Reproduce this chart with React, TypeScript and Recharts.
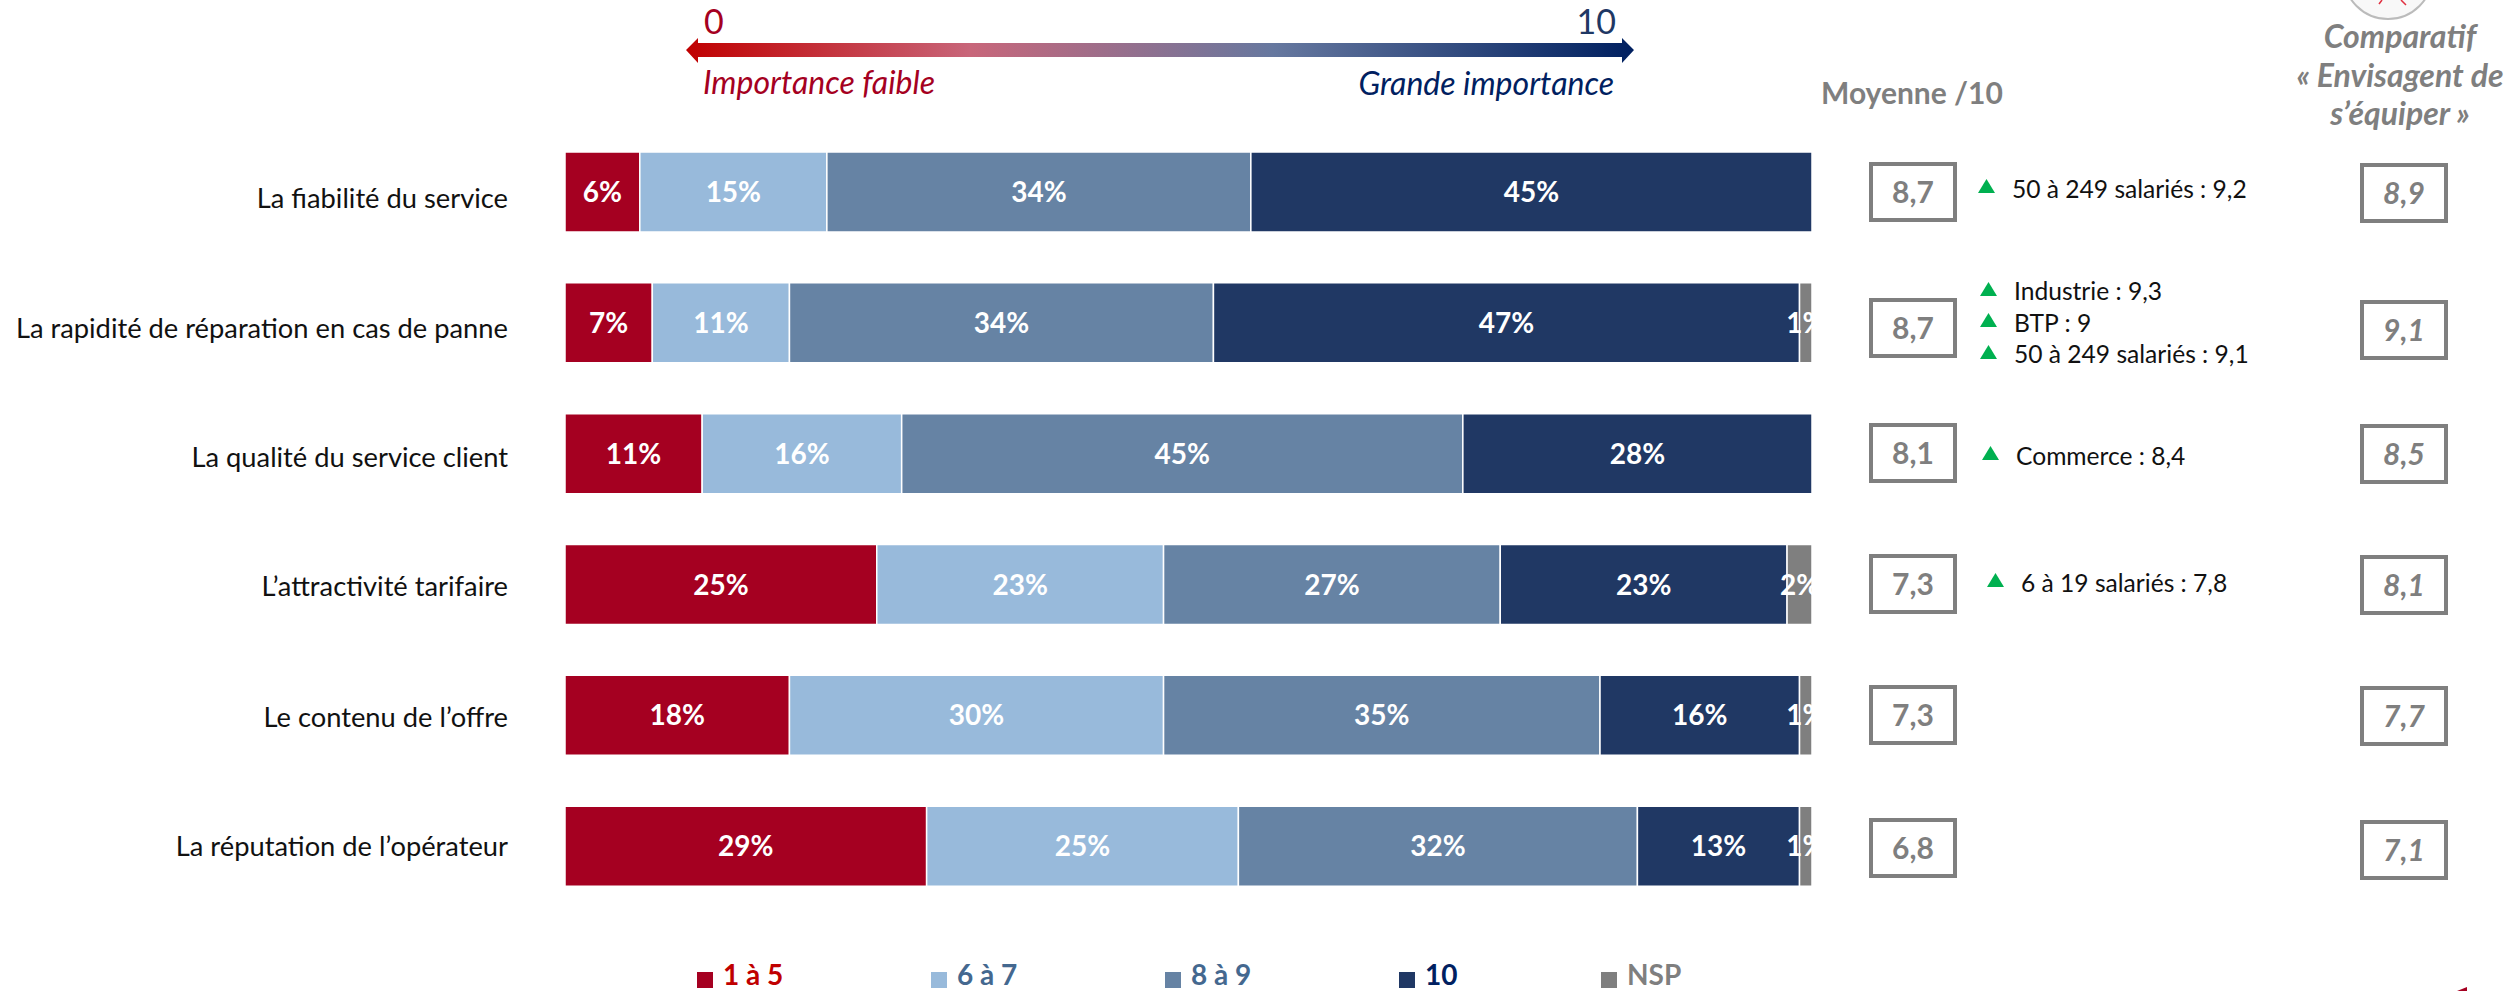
import React from 'react';
import { BarChart, Bar, XAxis, YAxis, LabelList, Legend } from 'recharts';

const FONT = 'Lato, "Open Sans", sans-serif';
const categories = [
  'La fiabilité du service',
  'La rapidité de réparation en cas de panne',
  'La qualité du service client',
  'L’attractivité tarifaire',
  'Le contenu de l’offre',
  'La réputation de l’opérateur',
];
const seriesNames = ['1 à 5', '6 à 7', '8 à 9', '10', 'NSP'];
const seriesKeys = ['a', 'b', 'c', 'd', 'e'];
const seriesColors = ['#A50021', '#98BADB', '#6683A4', '#203864', '#7F7F7F'];
const legendTextColors = ['#C00000', '#44688F', '#44688F', '#002060', '#7F7F7F'];
const legendX = [697, 931, 1165, 1399, 1601];
const v1a5 = [6, 7, 11, 25, 18, 29];
const v6a7 = [15, 11, 16, 23, 30, 25];
const v8a9 = [34, 34, 45, 27, 35, 32];
const v10 = [45, 47, 28, 23, 16, 13];
const vNsp = [0, 1, 0, 2, 1, 1];
const moyennes = ['8,7', '8,7', '8,1', '7,3', '7,3', '6,8'];
const moyenneY = [162, 298, 423, 554, 685, 818];
const comparatifs = ['8,9', '9,1', '8,5', '8,1', '7,7', '7,1'];
const comparatifY = [163, 300, 424, 555, 686, 820];
const tickDy = [6, 5, 3, 1, 1, -1];
const notes = [
  { text: '50 à 249 salariés : 9,2', tx: 1978, ty: 179, x: 2012, y: 198 },
  { text: 'Industrie : 9,3', tx: 1980, ty: 282, x: 2014, y: 300 },
  { text: 'BTP : 9', tx: 1980, ty: 313, x: 2014, y: 332 },
  { text: '50 à 249 salariés : 9,1', tx: 1980, ty: 345, x: 2014, y: 363 },
  { text: 'Commerce : 8,4', tx: 1982, ty: 446, x: 2016, y: 465 },
  { text: '6 à 19 salariés : 7,8', tx: 1987, ty: 573, x: 2021, y: 592 },
];

const data = categories.map((name, i) => ({
  name,
  a: v1a5[i],
  b: v6a7[i],
  c: v8a9[i],
  d: v10[i],
  e: vNsp[i],
}));

const BarLabel = (props: any) => {
  const { x, y, width, height, value, index, id } = props;
  if (!value) return null;
  const clip = `clip-${id}-${index}`;
  return (
    <g>
      <clipPath id={clip}>
        <rect x={x - 30} y={y} width={width + 30} height={height} />
      </clipPath>
      <text
        x={x + width / 2}
        y={y + height / 2 + 10}
        textAnchor="middle"
        fill="#fff"
        fontFamily={FONT}
        fontWeight={700}
        fontSize={28}
        clipPath={`url(#${clip})`}
      >
        {value}%
      </text>
    </g>
  );
};

const CategoryTick = (props: any) => {
  const { x, y, payload, index } = props;
  return (
    <text x={x} y={y + 10 + tickDy[index]} textAnchor="end" fontFamily={FONT} fontSize={27.3} fill="#111">
      {payload.value}
    </text>
  );
};

const LegendContent = () => (
  <svg width={2514} height={51} style={{ display: 'block' }}>
    {seriesNames.map((n, i) => (
      <g key={n}>
        <rect x={legendX[i]} y={32} width={16} height={16} fill={seriesColors[i]} />
        <text x={legendX[i] + 26} y={45} fontFamily={FONT} fontWeight={700} fontSize={28} fill={legendTextColors[i]}>
          {n}
        </text>
      </g>
    ))}
  </svg>
);

const ValueBox = ({ x, y, w, h, label, italic }: any) => (
  <g>
    <rect x={x + 2} y={y + 2} width={w - 4} height={h - 4} fill="#fff" stroke="#7F7F7F" strokeWidth={4} />
    <text
      x={x + w / 2}
      y={y + h / 2 + 10.5}
      textAnchor="middle"
      fontFamily={FONT}
      fontWeight={700}
      fontStyle={italic ? 'italic' : 'normal'}
      fontSize={30}
      fill="#7F7F7F"
    >
      {label}
    </text>
  </g>
);

const Overlay = () => (
  <svg width={2514} height={991} style={{ position: 'absolute', left: 0, top: 0, pointerEvents: 'none' }}>
    <defs>
      <linearGradient id="scale" x1="0" x2="1" y1="0" y2="0">
        <stop offset="0" stopColor="#C00000" />
        <stop offset="0.3" stopColor="#C8667A" />
        <stop offset="0.62" stopColor="#66789F" />
        <stop offset="1" stopColor="#002060" />
      </linearGradient>
    </defs>
    <path
      d="M686 50 L698 38 L698 43 L1622 43 L1622 38 L1634 50 L1622 63 L1622 57 L698 57 L698 63 Z"
      fill="url(#scale)"
    />
    <text x={704} y={34} fontFamily={FONT} fontSize={34} fill="#A50021">0</text>
    <text x={1616} y={34} textAnchor="end" fontFamily={FONT} fontSize={34} fill="#1F3864">10</text>
    <text x={703} y={94} fontFamily={FONT} fontStyle="italic" fontSize={32} fill="#A50021">Importance faible</text>
    <text x={1614} y={95} textAnchor="end" fontFamily={FONT} fontStyle="italic" fontSize={32} fill="#002060">Grande importance</text>

    <text x={1821} y={104} fontFamily={FONT} fontWeight={700} fontSize={30} fill="#7F7F7F">Moyenne /10</text>
    <g fontFamily={FONT} fontWeight={700} fontStyle="italic" fontSize={32} fill="#7F7F7F" textAnchor="middle">
      <text x={2400} y={48}>Comparatif</text>
      <text x={2400} y={87}>« Envisagent de</text>
      <text x={2400} y={125}>s’équiper »</text>
    </g>
    <circle cx={2388} cy={-25.5} r={44.5} fill="#F8F8F8" stroke="#BBBBBB" strokeWidth={2} />
    <path d="M2379 4 L2382 0 M2406 5 L2401 0" stroke="#E03040" strokeWidth={1.5} fill="none" />
    <path d="M2457 991 L2467 987 L2467 991 Z" fill="#A50021" />

    {moyennes.map((m, i) => (
      <ValueBox key={i} x={1869} y={moyenneY[i]} w={88} h={60} label={m} />
    ))}
    {comparatifs.map((m, i) => (
      <ValueBox key={i} x={2360} y={comparatifY[i]} w={88} h={60} label={m} italic />
    ))}
    {notes.map((n) => (
      <g key={n.text}>
        <path d={`M${n.tx} ${n.ty + 14} L${n.tx + 8.5} ${n.ty} L${n.tx + 17} ${n.ty + 14} Z`} fill="#00B050" />
        <text x={n.x} y={n.y} fontFamily={FONT} fontSize={24.6} fill="#111">{n.text}</text>
      </g>
    ))}
  </svg>
);

export default function App() {
  return (
    <div style={{ position: 'absolute', left: 0, top: 0, width: 2514, height: 991, background: '#fff', overflow: 'hidden' }}>
      <BarChart
        width={2514}
        height={991}
        data={data}
        layout="vertical"
        margin={{ top: 127, bottom: 28, left: 0, right: 702 }}
        barSize={80}
      >
        <XAxis type="number" domain={[0, 100]} hide />
        <YAxis
          type="category"
          dataKey="name"
          width={565}
          axisLine={false}
          tickLine={false}
          tickMargin={51}
          interval={0}
          tick={<CategoryTick />}
        />
        <Legend
          content={<LegendContent />}
          wrapperStyle={{ position: 'absolute', left: 0, top: 940, width: 2514, height: 51 }}
        />
        {seriesKeys.map((k, i) => (
          <Bar
            key={k}
            dataKey={k}
            name={seriesNames[i]}
            stackId="s"
            fill={seriesColors[i]}
            stroke="#fff"
            strokeWidth={1.5}
            isAnimationActive={false}
          >
            <LabelList dataKey={k} content={<BarLabel id={k} />} />
          </Bar>
        ))}
      </BarChart>
      <Overlay />
    </div>
  );
}
